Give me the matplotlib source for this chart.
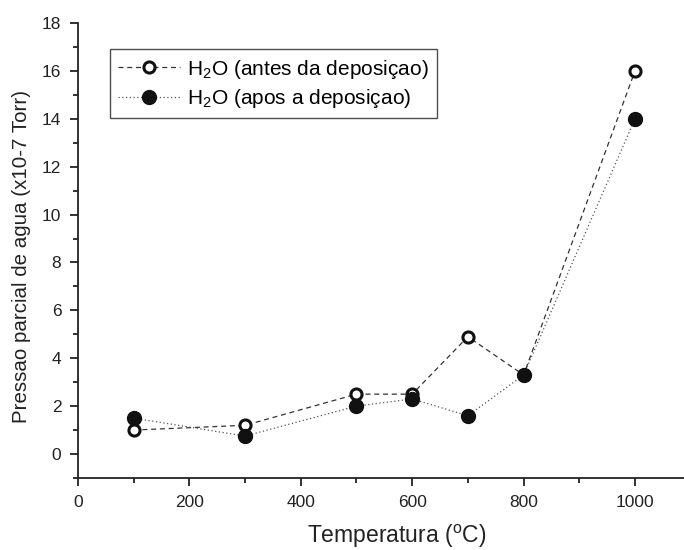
import matplotlib
matplotlib.use("Agg")
import matplotlib.pyplot as plt
from matplotlib.ticker import MultipleLocator

plt.rcParams["font.family"] = ["Liberation Sans", "DejaVu Sans"]
plt.rcParams["mathtext.fontset"] = "custom"
plt.rcParams["mathtext.rm"] = "Liberation Sans"

temperatura = [100, 300, 500, 600, 700, 800, 1000]
antes = [1.0, 1.2, 2.5, 2.5, 4.9, 3.3, 16.0]
apos = [1.5, 0.75, 2.0, 2.3, 1.6, 3.3, 14.0]

fig = plt.figure(figsize=(6.84, 5.5), dpi=100)
ax = fig.add_axes([0.114, 0.131, 0.886, 0.827])

ax.plot(temperatura, antes, linestyle=(0, (4, 3)), color="#333333", linewidth=0.9,
        marker="o", markersize=8, markerfacecolor="white", markeredgecolor="#111111",
        markeredgewidth=2.2, label=r"H$_\mathrm{2}$O (antes da deposiçao)", zorder=2)
ax.plot(temperatura, apos, linestyle=(0, (1, 2)), color="#555555", linewidth=0.9,
        marker="o", markersize=10, markerfacecolor="#111111", markeredgecolor="#111111",
        label=r"H$_\mathrm{2}$O (apos a deposiçao)", zorder=3)

ax.set_xlim(0, 1088)
ax.set_ylim(-1, 18)
ax.xaxis.set_major_locator(MultipleLocator(200))
ax.xaxis.set_minor_locator(MultipleLocator(100))
ax.yaxis.set_major_locator(MultipleLocator(2))
ax.yaxis.set_minor_locator(MultipleLocator(1))

for s in ["top", "right"]:
    ax.spines[s].set_visible(False)
for s in ["left", "bottom"]:
    ax.spines[s].set_linewidth(1.3)
    ax.spines[s].set_color("#222222")

ax.tick_params(which="major", length=6, width=1.3, labelsize=12.5, colors="#222222", pad=6)
ax.tick_params(which="minor", length=3.5, width=1.3, colors="#222222")

ax.set_xlabel(r"Temperatura ($^\mathrm{o}$C)", fontsize=16.5, color="#222222")
ax.set_ylabel("Pressao parcial de agua (x10-7 Torr)", fontsize=14.8, color="#222222")
ax.xaxis.set_label_coords(0.526, -0.098)
ax.yaxis.set_label_coords(-0.077, 0.486)

leg = ax.legend(loc="upper left", bbox_to_anchor=(0.035, 0.965), fontsize=15,
                frameon=True, fancybox=False, edgecolor="#222222", handlelength=3.0,
                handletextpad=0.3, borderpad=0.4, labelspacing=0.3)
leg.get_frame().set_linewidth(1.0)

fig.savefig("out.png", dpi=100)
